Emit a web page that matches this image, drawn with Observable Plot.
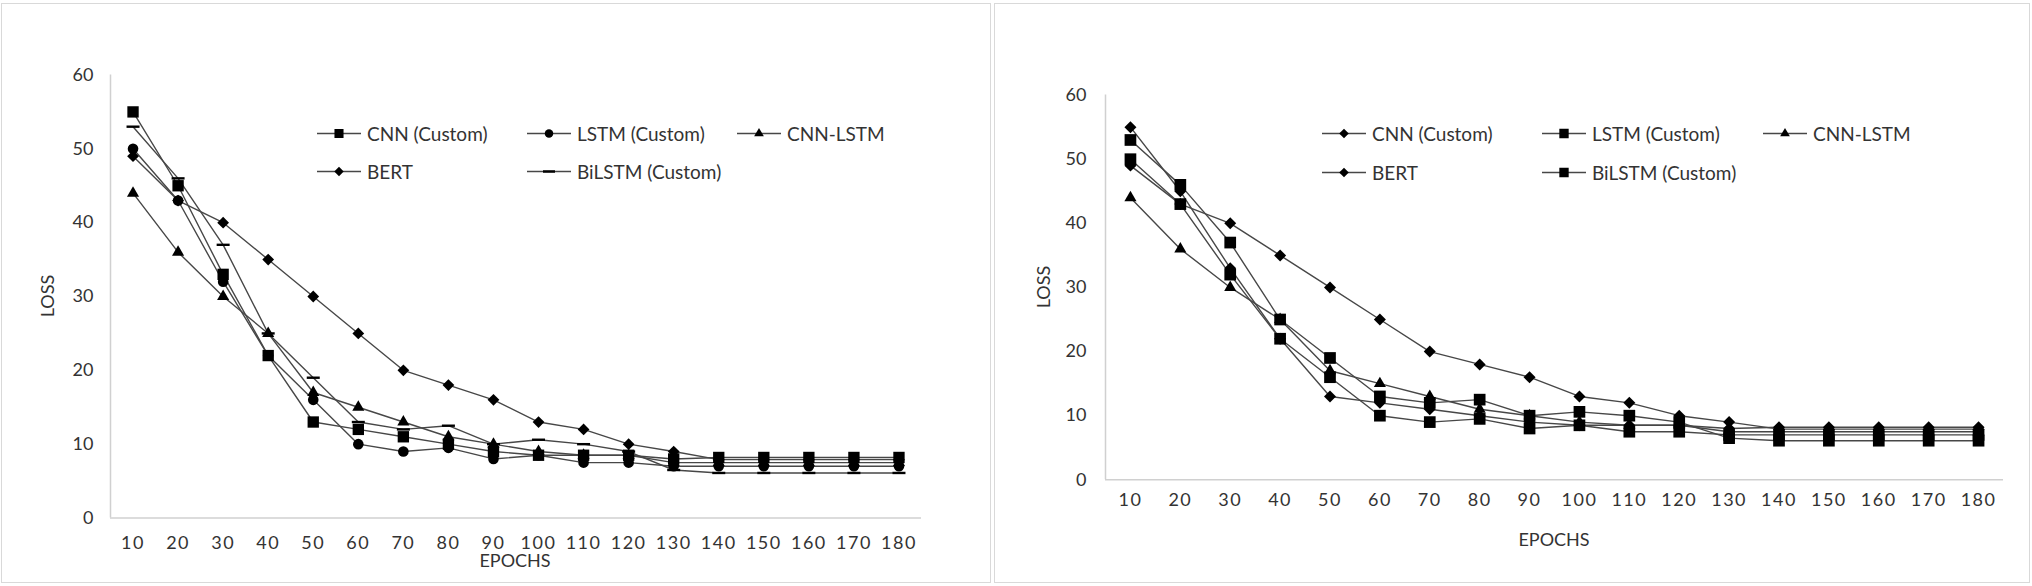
<!DOCTYPE html>
<html><head><meta charset="utf-8">
<script src="https://cdn.jsdelivr.net/npm/d3@7"></script>
<script src="https://cdn.jsdelivr.net/npm/@observablehq/plot@0.6"></script>
<style>
body{margin:0;background:#fff;}
#root{position:relative;width:2032px;height:586px;overflow:hidden;font-family:Lato,"Open Sans",sans-serif;color:#333;background:#fff;}
.panel{position:absolute;border:1.5px solid #d9d9d9;box-sizing:border-box;}
.plot{position:absolute;top:0;}
.plot svg{overflow:visible;}
.plot g[aria-label^="x-axis"] text{letter-spacing:1.5px;}
.lbl{position:absolute;font-size:18px;white-space:nowrap;transform:translate(-50%,-50%);color:#333;}
.lbl.rot{transform:translate(-50%,-50%) rotate(-90deg);}
.leg{position:absolute;display:flex;align-items:center;font-size:19px;white-space:nowrap;transform:translateY(-50%);color:#333;}
.leg svg{margin-right:6px;}
</style>
</head><body>
<div id="root"></div>
<script>
// ---- data ----
const epochs = [10,20,30,40,50,60,70,80,90,100,110,120,130,140,150,160,170,180];
const seriesNames = ["CNN (Custom)","LSTM (Custom)","CNN-LSTM","BERT","BiLSTM (Custom)"];
const cnnLoss     = [55,45,33,22,13,12,11,10,9,8.5,8.5,8.5,8,8.2,8.2,8.2,8.2,8.2];
const lstmLoss    = [50,43,32,22,16,10,9,9.5,8,8.5,7.5,7.5,7,7,7,7,7,7];
const cnnLstmLoss = [44,36,30,25,17,15,13,11,10,9,8.5,8.5,7.5,7.5,7.5,7.5,7.5,7.5];
const bertLoss    = [49,43,40,35,30,25,20,18,16,13,12,10,9,7.9,7.9,7.9,7.9,7.9];
const bilstmLoss  = [53,46,37,25,19,13,12,12.5,10,10.6,10,9,6.5,6.1,6.1,6.1,6.1,6.1];
const yTicks = [0,10,20,30,40,50,60];
const xLabel = "EPOCHS";
const yLabel = "LOSS";

const seriesValues = [cnnLoss, lstmLoss, cnnLstmLoss, bertLoss, bilstmLoss];
const rows = [];
seriesNames.forEach((s, i) => epochs.forEach((e, j) => rows.push({series: s, epoch: e, loss: seriesValues[i][j]})));

const dashSymbol = {draw(ctx){ctx.moveTo(-6.5,-1.2);ctx.lineTo(6.5,-1.2);ctx.lineTo(6.5,1.2);ctx.lineTo(-6.5,1.2);ctx.closePath();}};
const d3Sym = {square: d3.symbolSquare, circle: d3.symbolCircle, triangle: d3.symbolTriangle, diamond2: d3.symbolDiamond2};

const root = document.getElementById("root");

function makeChart(cfg) {
  const panel = document.createElement("div");
  panel.className = "panel";
  Object.assign(panel.style, {left: cfg.panel[0]+"px", top: cfg.panel[1]+"px", width: cfg.panel[2]+"px", height: cfg.panel[3]+"px"});
  root.appendChild(panel);

  const marks = [
    Plot.ruleX([5], {stroke: "#d0d0d0", strokeWidth: 1.5}),
    Plot.ruleY([0], {stroke: "#d0d0d0", strokeWidth: 1.5}),
    Plot.line(rows, {x: "epoch", y: "loss", z: "series", stroke: "#474747", strokeWidth: 1.4})
  ];
  seriesNames.forEach((s, i) => {
    const m = cfg.markers[i];
    marks.push(Plot.dot(rows.filter(d => d.series === s), {x: "epoch", y: "loss", symbol: m.sym === "dash" ? dashSymbol : m.sym, r: m.r, fill: "#000", stroke: "none"}));
  });

  const svg = Plot.plot({
    width: cfg.width, height: 586,
    marginLeft: cfg.mL, marginRight: cfg.mR, marginTop: cfg.mT, marginBottom: cfg.mB,
    style: {fontFamily: "Lato, 'Open Sans', sans-serif", fontSize: "18px", color: "#333", background: "transparent"},
    x: {type: "linear", domain: [5, 185], ticks: epochs, tickFormat: d => String(d), tickSize: 0, tickPadding: cfg.xPad, label: null},
    y: {domain: [0, 60], ticks: yTicks, tickSize: 0, tickPadding: cfg.yPad, label: null},
    marks
  });
  const wrap = document.createElement("div");
  wrap.className = "plot";
  wrap.style.left = cfg.left + "px";
  wrap.appendChild(svg);
  root.appendChild(wrap);

  const yl = document.createElement("div");
  yl.className = "lbl rot"; yl.textContent = yLabel;
  yl.style.left = cfg.yLabelPos[0] + "px"; yl.style.top = cfg.yLabelPos[1] + "px";
  root.appendChild(yl);
  const xl = document.createElement("div");
  xl.className = "lbl"; xl.textContent = xLabel;
  xl.style.left = cfg.xLabelPos[0] + "px"; xl.style.top = cfg.xLabelPos[1] + "px";
  root.appendChild(xl);

  seriesNames.forEach((s, i) => {
    const m = cfg.markers[i];
    const p = cfg.legendPos[i];
    const item = document.createElement("div");
    item.className = "leg";
    item.style.left = p[0] + "px"; item.style.top = p[1] + "px";
    const ns = "http://www.w3.org/2000/svg";
    const sw = document.createElementNS(ns, "svg");
    sw.setAttribute("width", 44); sw.setAttribute("height", 16);
    const ln = document.createElementNS(ns, "line");
    ln.setAttribute("x1", 0); ln.setAttribute("x2", 44); ln.setAttribute("y1", 8); ln.setAttribute("y2", 8);
    ln.setAttribute("stroke", "#474747"); ln.setAttribute("stroke-width", 1.4);
    sw.appendChild(ln);
    const pth = document.createElementNS(ns, "path");
    let d;
    if (m.sym === "dash") d = "M-6,-1.2L6,-1.2L6,1.2L-6,1.2Z";
    else { const rr = m.r * 0.8; d = d3.symbol(d3Sym[m.sym], rr * rr * Math.PI)(); }
    pth.setAttribute("d", d); pth.setAttribute("transform", "translate(22,8)"); pth.setAttribute("fill", "#000");
    sw.appendChild(pth);
    item.appendChild(sw);
    const t = document.createElement("span"); t.textContent = s;
    item.appendChild(t);
    root.appendChild(item);
  });
}

makeChart({
  panel: [1, 3, 990, 580], left: 0, width: 992,
  mL: 110, mR: 71, mT: 74.5, mB: 68.5, xPad: 18, yPad: 17,
  yLabelPos: [47, 296], xLabelPos: [515, 560],
  legendPos: [[317,133],[527,133],[737,133],[317,171],[527,171]],
  markers: [{sym: "square", r: 6.4}, {sym: "circle", r: 5.3}, {sym: "triangle", r: 4.5}, {sym: "diamond2", r: 5.3}, {sym: "dash"}]
});
makeChart({
  panel: [994, 3, 1036, 580], left: 996, width: 1036,
  mL: 109, mR: 29, mT: 94.6, mB: 106.7, xPad: 13.5, yPad: 19,
  yLabelPos: [1043, 287], xLabelPos: [1554, 539],
  legendPos: [[1322,133],[1542,133],[1763,133],[1322,172],[1542,172]],
  markers: [{sym: "diamond2", r: 5.4}, {sym: "square", r: 6.6}, {sym: "triangle", r: 4.5}, {sym: "diamond2", r: 5.4}, {sym: "square", r: 6.6}]
});
</script>
</body></html>
